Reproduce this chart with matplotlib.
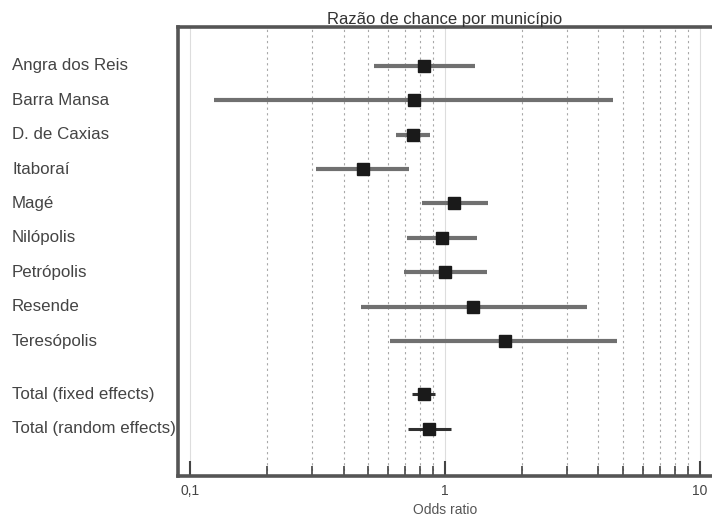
import matplotlib
matplotlib.use("Agg")
import matplotlib.pyplot as plt
import matplotlib.transforms as mtransforms
from matplotlib.ticker import FixedLocator, NullFormatter

labels = ["Angra dos Reis", "Barra Mansa", "D. de Caxias", "Itaboraí", "Magé",
          "Nilópolis", "Petrópolis", "Resende", "Teresópolis",
          "Total (fixed effects)", "Total (random effects)"]
odds = [0.83, 0.758, 0.749, 0.477, 1.088, 0.976, 1.0, 1.29, 1.72, 0.827, 0.866]
ci_low = [0.528, 0.124, 0.645, 0.311, 0.81, 0.708, 0.69, 0.467, 0.609, 0.744, 0.714]
ci_high = [1.31, 4.57, 0.871, 0.725, 1.48, 1.34, 1.457, 3.59, 4.71, 0.914, 1.056]
rows = [0, 1, 2, 3, 4, 5, 6, 7, 8, 9.55, 10.55]
major_ticks = [0.1, 1, 10]
major_labels = ["0,1", "1", "10"]
minor_ticks = [0.2, 0.3, 0.4, 0.5, 0.6, 0.7, 0.8, 0.9, 2, 3, 4, 5, 6, 7, 8, 9]

plt.rcParams['font.family'] = ['Liberation Sans', 'DejaVu Sans']

fig = plt.figure(figsize=(7.12, 5.18), dpi=100)
ax = fig.add_axes([0.25, 0.081, 0.75, 0.867])
ax.set_xscale('log')
ax.set_xlim(0.0897, 11.15)
ax.set_ylim(11.92, -1.13)

for x in minor_ticks:
    ax.axvline(x, color='#a8a8a8', lw=0.8, ls=(0, (2, 3)), zorder=0)
for x in major_ticks:
    ax.axvline(x, color='#dddddd', lw=0.8, zorder=0)

for i, (o, lo, hi, r) in enumerate(zip(odds, ci_low, ci_high, rows)):
    col = '#707070' if i < 9 else '#303030'
    lw = 3.0 if i < 9 else 2.2
    ax.plot([lo, hi], [r, r], color=col, lw=lw, solid_capstyle='butt', zorder=2)
    ax.plot([o], [r], marker='s', color='#1a1a1a', markersize=8, zorder=3)

ax.xaxis.set_major_locator(FixedLocator(major_ticks))
ax.xaxis.set_minor_locator(FixedLocator(minor_ticks))
ax.set_xticklabels(major_labels)
ax.xaxis.set_minor_formatter(NullFormatter())
ax.tick_params(axis='x', which='major', direction='in', length=11, width=1.5,
               color='#444444', labelsize=10, labelcolor='#444444', pad=6)
ax.tick_params(axis='x', which='minor', direction='in', length=7, width=1.2,
               color='#444444')
ax.set_yticks([])

for s in ['left', 'bottom', 'top']:
    ax.spines[s].set_linewidth(2.6)
    ax.spines[s].set_color('#555555')
ax.spines['right'].set_visible(False)

trans = mtransforms.blended_transform_factory(fig.transFigure, ax.transData)
for lab, r in zip(labels, rows):
    ax.text(12 / 712, r, lab, transform=trans, ha='left', va='center',
            fontsize=12.2, color='#444444', clip_on=False)

ax.set_title("Razão de chance por município", fontsize=12, color='#333333', pad=2)
ax.set_xlabel("Odds ratio", fontsize=10, color='#555555', labelpad=3)

fig.savefig("out.png", dpi=100, facecolor='white')
